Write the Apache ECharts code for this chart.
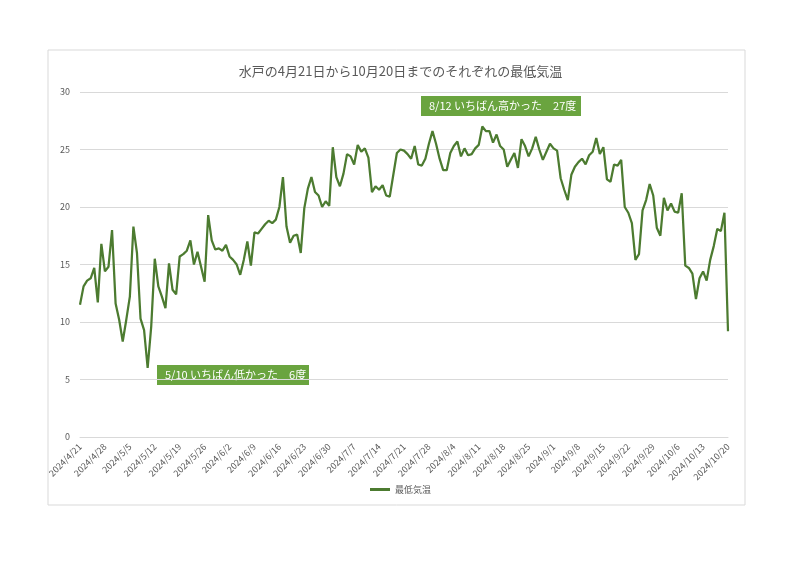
<!DOCTYPE html>
<html>
<head>
<meta charset="utf-8">
<script src="https://cdn.jsdelivr.net/npm/echarts@6/dist/echarts.min.js"></script>
<style>
  html, body { margin: 0; padding: 0; background: #fff; }
  #chart { width: 801px; height: 566px; }
</style>
</head>
<body>
<div id="chart"></div>
<script>
// 水戸の最低気温（2024/4/21〜2024/10/20）
const april = [11.5, 13.1, 13.6, 13.8, 14.7, 11.7, 16.8, 14.4, 14.8, 18.0];
const may = [11.6, 10.2, 8.3, 10.2, 12.2, 18.3, 16.0, 10.3, 9.3, 6.0,
    9.6, 15.5, 13.1, 12.2, 11.2, 15.1, 12.8, 12.4, 15.7, 15.9,
    16.2, 17.1, 15.0, 16.1, 14.8, 13.5, 19.3, 17.1, 16.3, 16.4, 16.2];
const june = [16.7, 15.7, 15.4, 15.0, 14.1, 15.4, 17.0, 14.9, 17.8, 17.7,
    18.1, 18.5, 18.8, 18.6, 18.9, 20.0, 22.6, 18.3, 16.9, 17.5,
    17.6, 16.0, 19.9, 21.6, 22.6, 21.3, 21.0, 20.0, 20.5, 20.1];
const july = [25.2, 22.6, 21.8, 22.9, 24.6, 24.4, 23.7, 25.4, 24.8, 25.1,
    24.3, 21.3, 21.8, 21.5, 21.9, 21.0, 20.9, 22.8, 24.7, 25.0,
    24.9, 24.6, 24.2, 25.3, 23.7, 23.6, 24.2, 25.5, 26.6, 25.5, 24.2];
const august = [23.2, 23.2, 24.7, 25.3, 25.7, 24.4, 25.1, 24.5, 24.6, 25.1,
    25.4, 27.0, 26.6, 26.6, 25.6, 26.3, 25.3, 25.0, 23.5, 24.1,
    24.7, 23.4, 25.9, 25.3, 24.4, 25.1, 26.1, 25.0, 24.1, 24.8, 25.5];
const september = [25.1, 24.9, 22.5, 21.5, 20.6, 22.8, 23.5, 23.9, 24.2, 23.7,
    24.5, 24.8, 26.0, 24.6, 25.2, 22.4, 22.2, 23.7, 23.6, 24.1,
    20.0, 19.5, 18.6, 15.4, 15.9, 19.7, 20.6, 22.0, 21.0, 18.2];
const october = [17.5, 20.8, 19.7, 20.3, 19.6, 19.5, 21.2, 14.9, 14.7, 14.2,
    12.0, 13.8, 14.4, 13.6, 15.4, 16.6, 18.1, 17.9, 19.5, 9.2];

const minTemps = [...april, ...may, ...june, ...july, ...august, ...september, ...october];

// 日付ラベル
const dates = [];
const start = new Date(2024, 3, 21);
for (let i = 0; i < minTemps.length; i++) {
    const d = new Date(start.getTime() + i * 86400000);
    dates.push(`${d.getFullYear()}/${d.getMonth() + 1}/${d.getDate()}`);
}

const yTicks = { min: 0, max: 30, interval: 5 };

const lineColor = '#4c7b30';
const boxColor = '#6aa43f';
const textGray = '#595959';
const font = '"Noto Sans CJK JP", "Noto Sans", sans-serif';

const chart = echarts.init(document.getElementById('chart'));

const option = {
    animation: false,
    textStyle: { fontFamily: font },
    title: {
        text: '水戸の4月21日から10月20日までのそれぞれの最低気温',
        left: 'center',
        top: 60,
        textStyle: { fontSize: 13, fontWeight: 'normal', color: textGray, fontFamily: font }
    },
    legend: {
        data: ['最低気温'],
        bottom: 67,
        left: 'center',
        icon: 'rect',
        itemWidth: 20,
        itemHeight: 3,
        textStyle: { fontSize: 9, color: textGray }
    },
    grid: {
        left: 80,
        right: 73,
        top: 92,
        bottom: 129,
        containLabel: false
    },
    xAxis: {
        type: 'category',
        data: dates,
        boundaryGap: false,
        axisLine: { lineStyle: { color: '#d9d9d9' } },
        axisTick: { show: false },
        axisLabel: {
            interval: 6,
            rotate: 45,
            fontSize: 9,
            color: textGray,
            margin: 8
        }
    },
    yAxis: {
        type: 'value',
        min: yTicks.min,
        max: yTicks.max,
        interval: yTicks.interval,
        axisLine: { show: false },
        axisTick: { show: false },
        axisLabel: { fontSize: 9, color: textGray, margin: 10 },
        splitLine: { lineStyle: { color: '#d9d9d9' } }
    },
    series: [{
        name: '最低気温',
        type: 'line',
        data: minTemps,
        showSymbol: false,
        symbol: 'none',
        lineStyle: { color: lineColor, width: 2.25 },
        itemStyle: { color: lineColor }
    }],
    graphic: [
        {
            type: 'rect',
            shape: { x: 48, y: 50, width: 697, height: 455 },
            style: { fill: 'none', stroke: '#d9d9d9', lineWidth: 1 },
            z: -1
        },
        {
            type: 'group',
            left: 421,
            top: 96,
            children: [
                { type: 'rect', shape: { x: 0, y: 0, width: 160, height: 20 }, style: { fill: boxColor } },
                {
                    type: 'text', x: 8, y: 10,
                    style: { text: '8/12 いちばん高かった　27度', fill: '#fff', fontSize: 11, fontFamily: font, verticalAlign: 'middle' }
                }
            ]
        },
        {
            type: 'group',
            left: 157,
            top: 365,
            children: [
                { type: 'rect', shape: { x: 0, y: 0, width: 152, height: 20 }, style: { fill: boxColor } },
                {
                    type: 'text', x: 8, y: 10,
                    style: { text: '5/10 いちばん低かった　6度', fill: '#fff', fontSize: 11, fontFamily: font, verticalAlign: 'middle' }
                }
            ]
        }
    ]
};

chart.setOption(option);
</script>
</body>
</html>
